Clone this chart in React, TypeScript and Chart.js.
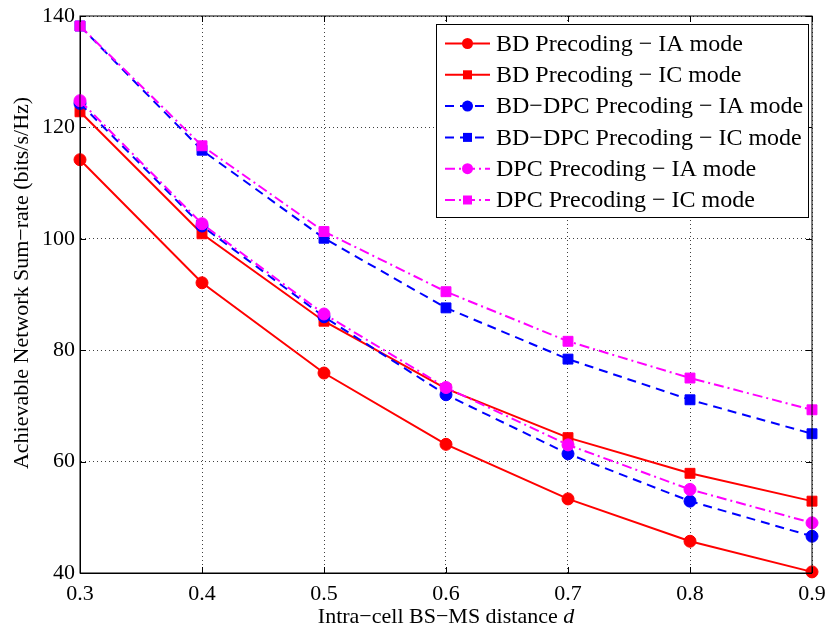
import React, { useEffect, useRef } from "react";
import { Chart, registerables } from "chart.js";

Chart.register(...registerables);

const X_VALUES = [0.3, 0.4, 0.5, 0.6, 0.7, 0.8, 0.9];
const X_TICKS = [0.3, 0.4, 0.5, 0.6, 0.7, 0.8, 0.9];
const Y_TICKS = [40, 60, 80, 100, 120, 140];

const BD_IA = [114.2, 92.1, 75.9, 63.1, 53.3, 45.7, 40.2];
const BD_IC = [122.8, 100.9, 85.2, 73.1, 64.3, 57.9, 52.9];
const BDDPC_IA = [124.3, 102.3, 86.0, 72.0, 61.4, 52.9, 46.6];
const BDDPC_IC = [138.2, 115.9, 100.1, 87.6, 78.4, 71.1, 65.0];
const DPC_IA = [124.8, 102.7, 86.5, 73.3, 63.0, 55.0, 49.0];
const DPC_IC = [138.2, 116.7, 101.3, 90.5, 81.6, 75.0, 69.3];

const SERIES_LABELS = [
  "BD Precoding − IA mode",
  "BD Precoding − IC mode",
  "BD−DPC Precoding − IA mode",
  "BD−DPC Precoding − IC mode",
  "DPC Precoding − IA mode",
  "DPC Precoding − IC mode",
];

const X_TITLE = "Intra−cell BS−MS distance ";
const X_TITLE_ITALIC = "d";
const Y_TITLE = "Achievable Network Sum−rate (bits/s/Hz)";

const FONT = "'Liberation Serif', 'Times New Roman', Times, serif";
const RED = "#ff0000";
const BLUE = "#0000ff";
const MAGENTA = "#ff00ff";
const DASH: number[] = [9, 6];
const DASHDOT: number[] = [10, 4, 2, 4];

const SERIES = [
  { data: BD_IA, color: RED, dash: [] as number[], marker: "circle" },
  { data: BD_IC, color: RED, dash: [] as number[], marker: "rect" },
  { data: BDDPC_IA, color: BLUE, dash: DASH, marker: "circle" },
  { data: BDDPC_IC, color: BLUE, dash: DASH, marker: "rect" },
  { data: DPC_IA, color: MAGENTA, dash: DASHDOT, marker: "circle" },
  { data: DPC_IC, color: MAGENTA, dash: DASHDOT, marker: "rect" },
];

const decorPlugin = {
  id: "decor",
  afterDraw(chart: any) {
    const ctx = chart.ctx;
    const a = chart.chartArea;
    const xs = chart.scales.x;
    const ys = chart.scales.y;
    ctx.save();
    // frame
    ctx.strokeStyle = "#000";
    ctx.lineWidth = 1;
    ctx.setLineDash([]);
    ctx.strokeRect(a.left, a.top, a.right - a.left, a.bottom - a.top);
    // inward ticks
    const tl = 6;
    ctx.beginPath();
    X_TICKS.forEach((t) => {
      const px = Math.round(xs.getPixelForValue(t)) + 0.5;
      ctx.moveTo(px, a.bottom);
      ctx.lineTo(px, a.bottom - tl);
      ctx.moveTo(px, a.top);
      ctx.lineTo(px, a.top + tl);
    });
    Y_TICKS.forEach((t) => {
      const py = Math.round(ys.getPixelForValue(t)) + 0.5;
      ctx.moveTo(a.left, py);
      ctx.lineTo(a.left + tl, py);
      ctx.moveTo(a.right, py);
      ctx.lineTo(a.right - tl, py);
    });
    ctx.stroke();

    // legend
    const lx = 436, ly = 24, lw = 372, lh = 193;
    ctx.fillStyle = "#fff";
    ctx.fillRect(lx, ly, lw, lh);
    ctx.strokeStyle = "#000";
    ctx.lineWidth = 1;
    ctx.strokeRect(lx + 0.5, ly + 0.5, lw, lh);
    const rowY0 = 43.5;
    const rowStep = 31.3;
    SERIES.forEach((s, i) => {
      const y = rowY0 + i * rowStep;
      ctx.strokeStyle = s.color;
      ctx.lineWidth = 2;
      ctx.setLineDash(s.dash);
      ctx.beginPath();
      ctx.moveTo(445, y);
      ctx.lineTo(490, y);
      ctx.stroke();
      ctx.setLineDash([]);
      ctx.fillStyle = s.color;
      if (s.marker === "circle") {
        ctx.beginPath();
        ctx.arc(467.5, y, 5.5, 0, Math.PI * 2);
        ctx.fill();
      } else {
        ctx.fillRect(467.5 - 4.5, y - 4.5, 9, 9);
      }
      ctx.fillStyle = "#000";
      ctx.font = `24px ${FONT}`;
      ctx.textAlign = "left";
      ctx.textBaseline = "middle";
      ctx.fillText(SERIES_LABELS[i], 496, y + 1);
    });

    // axis titles
    ctx.fillStyle = "#000";
    ctx.font = `22px ${FONT}`;
    const w1 = ctx.measureText(X_TITLE).width;
    ctx.font = `italic 22px ${FONT}`;
    const w2 = ctx.measureText(X_TITLE_ITALIC).width;
    const cx = (a.left + a.right) / 2;
    const sx = cx - (w1 + w2) / 2;
    ctx.textAlign = "left";
    ctx.textBaseline = "alphabetic";
    ctx.font = `22px ${FONT}`;
    ctx.fillText(X_TITLE, sx, 623);
    ctx.font = `italic 22px ${FONT}`;
    ctx.fillText(X_TITLE_ITALIC, sx + w1, 623);

    ctx.translate(28, 283);
    ctx.rotate(-Math.PI / 2);
    ctx.font = `22px ${FONT}`;
    ctx.textAlign = "center";
    ctx.textBaseline = "alphabetic";
    ctx.fillText(Y_TITLE, 0, 0);
    ctx.restore();
  },
};

export default function App() {
  const ref = useRef<HTMLCanvasElement | null>(null);
  useEffect(() => {
    if (!ref.current) return;
    const n = SERIES.length;
    const chart = new Chart(ref.current, {
      type: "line",
      data: {
        datasets: SERIES.map((s, i) => ({
          label: SERIES_LABELS[i],
          data: X_VALUES.map((x, j) => ({ x, y: s.data[j] })),
          borderColor: s.color,
          backgroundColor: s.color,
          borderWidth: 2,
          borderDash: s.dash,
          pointStyle: s.marker as any,
          pointRadius: s.marker === "circle" ? 6 : 7,
          pointBorderWidth: 1,
          pointBorderColor: s.color,
          pointBackgroundColor: s.color,
          tension: 0,
          fill: false,
          clip: false,
          order: n - i,
        })),
      },
      options: {
        animation: false,
        responsive: false,
        layout: { padding: { top: 16, right: 16, left: 0, bottom: 0 } },
        plugins: { legend: { display: false }, tooltip: { enabled: false } },
        scales: {
          x: {
            type: "linear",
            min: 0.3,
            max: 0.9,
            afterBuildTicks: (scale: any) => {
              scale.ticks = X_TICKS.map((v) => ({ value: v }));
            },
            afterFit: (scale: any) => {
              scale.height = 53;
              scale.paddingLeft = 0;
              scale.paddingRight = 0;
            },
            ticks: {
              color: "#000",
              font: { family: FONT, size: 22 },
              padding: 8,
              maxRotation: 0,
              autoSkip: false,
              callback: (v: any) => Number(v).toFixed(1),
            },
            grid: { color: "rgba(0,0,0,0.75)", lineWidth: 1, drawTicks: false },
            border: { display: true, color: "#000", width: 1, dash: [1, 3] },
          },
          y: {
            type: "linear",
            min: 40,
            max: 140,
            afterBuildTicks: (scale: any) => {
              scale.ticks = Y_TICKS.map((v) => ({ value: v }));
            },
            afterFit: (scale: any) => {
              scale.width = 80;
              scale.paddingTop = 0;
              scale.paddingBottom = 0;
            },
            ticks: {
              color: "#000",
              font: { family: FONT, size: 22 },
              padding: 5,
              callback: (v: any) => String(v),
            },
            grid: { color: "rgba(0,0,0,0.75)", lineWidth: 1, drawTicks: false },
            border: { display: true, color: "#000", width: 1, dash: [1, 3] },
          },
        },
      },
      plugins: [decorPlugin],
    });
    return () => chart.destroy();
  }, []);
  return (
    <div style={{ position: "absolute", left: 0, top: 0, width: 828, height: 626, background: "#fff" }}>
      <canvas ref={ref} width={828} height={626} style={{ display: "block" }} />
    </div>
  );
}
